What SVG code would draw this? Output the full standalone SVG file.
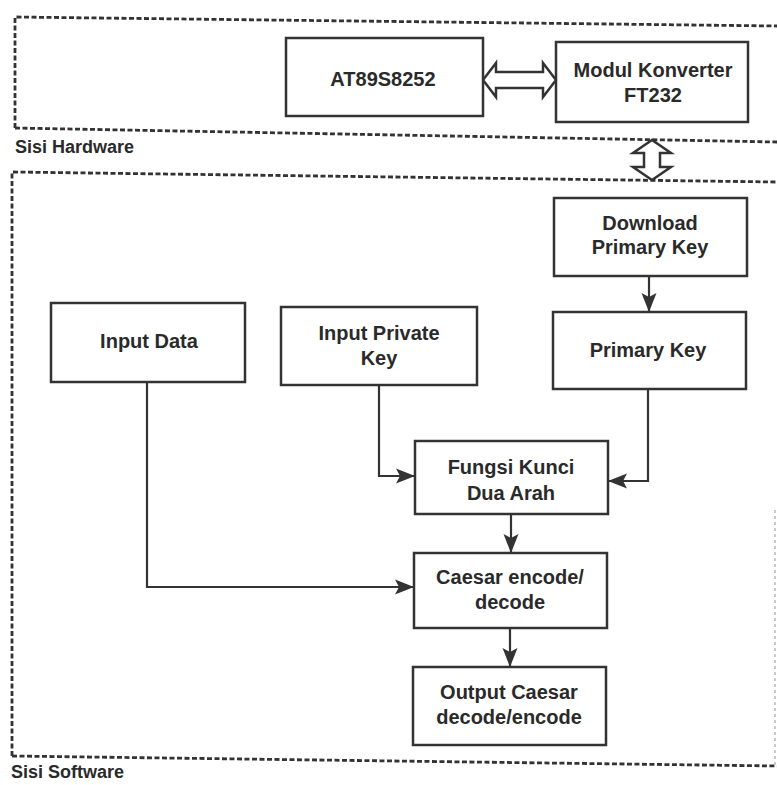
<svg xmlns="http://www.w3.org/2000/svg" width="777" height="785" viewBox="0 0 777 785">
<style>
.box{fill:#fff;stroke:#333;stroke-width:2.5}
.t{font-family:"Liberation Sans",Arial,sans-serif;font-weight:bold;font-size:20px;fill:#2a2a2a;text-anchor:middle}
.lbl{font-family:"Liberation Sans",Arial,sans-serif;font-weight:bold;font-size:18px;fill:#2a2a2a}
.dash{fill:none;stroke:#333;stroke-width:2.8;stroke-dasharray:5 2.5}
.conn{fill:none;stroke:#333;stroke-width:2.2}
.dbl{fill:#fff;stroke:#333;stroke-width:2.5;stroke-linejoin:miter}
</style>
<defs>
<marker id="ah" markerUnits="userSpaceOnUse" markerWidth="20" markerHeight="18" refX="19" refY="9" orient="auto">
<path d="M0,1.5 L19,9 L0,16.5 L4,9 Z" fill="#333"/>
</marker>
</defs>
<rect width="777" height="785" fill="#fff"/>
<g id="frame-hardware">
<path class="dash" d="M15,128 L15,17 L777,26"/>
<path class="dash" d="M15,128 L777,142"/>
<text class="lbl" x="15" y="153">Sisi Hardware</text>
</g>
<g id="frame-software">
<path class="dash" d="M12,756 L12,172 L777,182"/>
<path class="dash" d="M12,756 L777,766"/>
<path d="M775,510 L775,766" fill="none" stroke="#bbb" stroke-width="1.5" stroke-dasharray="3 3"/>
<text class="lbl" x="11" y="778">Sisi Software</text>
</g>
<g id="connectors">
<path class="dbl" d="M483,80 L496,63 L496,72 L543,72 L543,63 L556,80 L543,97 L543,88 L496,88 L496,97 Z"/>
<path class="dbl" d="M652,140 L633,153 L644,153 L644,167 L633,167 L652,180 L671,167 L660,167 L660,153 L671,153 Z"/>
<path class="conn" d="M649,276 L649,312" marker-end="url(#ah)"/>
<path class="conn" d="M379,385 L379,476 L415,476" marker-end="url(#ah)"/>
<path class="conn" d="M648,389 L648,481 L608,481" marker-end="url(#ah)"/>
<path class="conn" d="M147,382 L147,587 L414,587" marker-end="url(#ah)"/>
<path class="conn" d="M511,514 L511,553" marker-end="url(#ah)"/>
<path class="conn" d="M510,628 L510,667" marker-end="url(#ah)"/>
</g>
<g id="at89s8252">
<rect class="box" x="286" y="38" width="197" height="78"/>
<text class="t" x="383" y="86">AT89S8252</text>
</g>
<g id="ft232">
<rect class="box" x="556" y="42" width="192" height="80"/>
<text class="t" x="653" y="77">Modul Konverter</text>
<text class="t" x="653" y="102">FT232</text>
</g>
<g id="download-primary-key">
<rect class="box" x="554" y="198" width="193" height="78"/>
<text class="t" x="650" y="230">Download</text>
<text class="t" x="650" y="254">Primary Key</text>
</g>
<g id="primary-key">
<rect class="box" x="553" y="312" width="193" height="77"/>
<text class="t" x="648" y="357">Primary Key</text>
</g>
<g id="input-data">
<rect class="box" x="51" y="303" width="194" height="79"/>
<text class="t" x="149" y="348">Input Data</text>
</g>
<g id="input-private-key">
<rect class="box" x="281" y="307" width="196" height="78"/>
<text class="t" x="379" y="340">Input Private</text>
<text class="t" x="379" y="365">Key</text>
</g>
<g id="fungsi-kunci">
<rect class="box" x="415" y="441" width="193" height="73"/>
<text class="t" x="511" y="474">Fungsi Kunci</text>
<text class="t" x="511" y="500">Dua Arah</text>
</g>
<g id="caesar">
<rect class="box" x="414" y="553" width="193" height="75"/>
<text class="t" x="510" y="584">Caesar encode/</text>
<text class="t" x="510" y="609">decode</text>
</g>
<g id="output">
<rect class="box" x="413" y="667" width="193" height="78"/>
<text class="t" x="509" y="699">Output Caesar</text>
<text class="t" x="509" y="724">decode/encode</text>
</g>
</svg>
